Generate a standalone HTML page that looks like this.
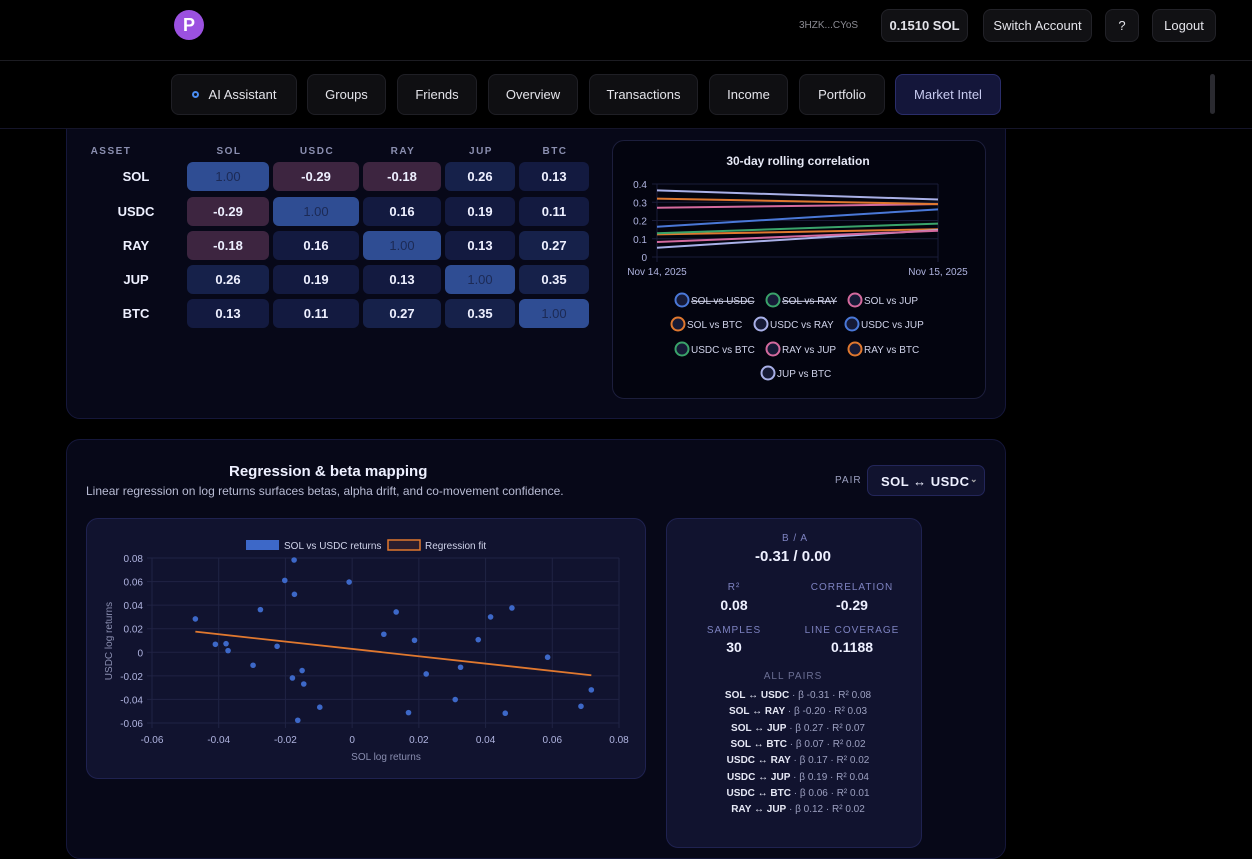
<!DOCTYPE html>
<html><head><meta charset="utf-8">
<style>
*{box-sizing:border-box;margin:0;padding:0}
body{width:1252px;height:826px;overflow:hidden;background:#000;font-family:"Liberation Sans",sans-serif;color:#e6e8f5;position:relative}
.abs{position:absolute}
.btn{position:absolute;background:#111114;border:1px solid #222228;border-radius:8px;color:#e4e4ea;font-size:13px;display:flex;align-items:center;justify-content:center;z-index:11}
.nav{position:absolute;top:74px;height:41px;background:#0f0f12;border:1px solid #1f1f25;border-radius:8px;color:#e4e4ea;font-size:13px;display:flex;align-items:center;justify-content:center;z-index:11}
.panel{position:absolute;background:#070818;border:1px solid #15173a;border-radius:14px}
.card{position:absolute;background:#11132f;border:1px solid #1f2250;border-radius:12px}
.cell{position:absolute;height:29px;border-radius:6px;display:flex;align-items:center;justify-content:center;font-size:13px;font-weight:bold;color:#eef0ff}
.hd{position:absolute;font-size:10px;font-weight:bold;letter-spacing:1.5px;color:#8b8fb0;transform:translateX(-50%)}
.rl{position:absolute;font-size:13px;font-weight:bold;color:#eef0ff;transform:translateX(-50%)}
.lbl{position:absolute;font-size:10px;letter-spacing:1px;color:#7d82c0;transform:translateX(-50%)}
.val{position:absolute;font-size:14px;font-weight:bold;color:#eef0ff;transform:translateX(-50%)}
.pair{position:absolute;left:798px;transform:translateX(-50%);font-size:10px;color:#9ca0c0;white-space:nowrap}
.pair b{color:#e6e8f5}
</style></head><body>
<div class="abs" style="left:0;top:0;width:1252px;height:128px;background:#000;z-index:10"></div>
<div class="abs" style="left:174px;top:10px;width:30px;height:30px;border-radius:50%;background:#9b51e0;color:#fff;font-weight:bold;font-size:18px;display:flex;align-items:center;justify-content:center;z-index:11">P</div>
<div class="abs" style="left:799px;top:20px;font-size:10px;color:#8a8a92;z-index:11">3HZK...CYoS</div>
<div class="btn" style="left:881px;top:9px;width:87px;height:33px;font-weight:bold">0.1510 SOL</div>
<div class="btn" style="left:983px;top:9px;width:109px;height:33px">Switch Account</div>
<div class="btn" style="left:1105px;top:9px;width:34px;height:33px">?</div>
<div class="btn" style="left:1152px;top:9px;width:64px;height:33px">Logout</div>
<div class="abs" style="left:0;top:60px;width:1252px;height:1px;background:#1c1c22;z-index:11"></div>
<div class="nav" style="left:171px;width:126px"><span style="display:inline-block;width:7px;height:7px;border:2px solid #4a8cf0;border-radius:50%;margin-right:10px"></span>AI Assistant</div>
<div class="nav" style="left:307px;width:79px">Groups</div>
<div class="nav" style="left:397px;width:80px">Friends</div>
<div class="nav" style="left:488px;width:90px">Overview</div>
<div class="nav" style="left:589px;width:109px">Transactions</div>
<div class="nav" style="left:709px;width:79px">Income</div>
<div class="nav" style="left:799px;width:86px">Portfolio</div>
<div class="nav" style="left:895px;width:106px;background:#14163a;border-color:#2a2d6a;color:#c8cbf0">Market Intel</div>
<div class="abs" style="left:1210px;top:74px;width:5px;height:40px;background:#2a2a30;border-radius:3px;z-index:11"></div>
<div class="abs" style="left:0;top:128px;width:1252px;height:1px;background:#15152a;z-index:11"></div>

<div class="panel" style="left:66px;top:100px;width:940px;height:319px"></div>
<div class="hd" style="left:111px;top:146px">ASSET</div>
<div id="heat"></div>

<div class="card" style="left:612px;top:140px;width:374px;height:259px;background:#03040f;border-color:#1c1e3c"></div>
<svg class="abs" id="roll" style="left:0;top:0" width="1252" height="826"></svg>

<div class="panel" style="left:66px;top:439px;width:940px;height:420px"></div>
<div class="abs" style="left:229px;top:463px;font-size:15px;font-weight:bold;color:#eef0ff">Regression &amp; beta mapping</div>
<div class="abs" style="left:86px;top:484px;font-size:12px;color:#b8bbd4">Linear regression on log returns surfaces betas, alpha drift, and co-movement confidence.</div>
<div class="abs" style="left:835px;top:475px;font-size:10px;letter-spacing:1px;color:#9ca0c0">PAIR</div>
<div class="abs" style="left:867px;top:465px;width:118px;height:31px;background:#11132f;border:1px solid #23265a;border-radius:7px;font-size:13px;font-weight:bold;letter-spacing:0.5px;color:#eef0ff;padding:8px 0 0 13px;white-space:nowrap">SOL ↔ USDC<span style="position:absolute;right:6px;top:8px;font-size:9px;color:#aaa">⌄</span></div>

<div class="card" style="left:86px;top:518px;width:560px;height:261px"></div>
<svg class="abs" id="sc" style="left:0;top:0" width="1252" height="826"></svg>

<div class="card" style="left:666px;top:518px;width:256px;height:330px"></div>
<div class="lbl" style="left:795px;top:533px">B / A</div>
<div class="val" style="left:793px;top:548px;font-size:15px">-0.31 / 0.00</div>
<div class="lbl" style="left:734px;top:582px">R²</div>
<div class="val" style="left:734px;top:597px">0.08</div>
<div class="lbl" style="left:852px;top:582px">CORRELATION</div>
<div class="val" style="left:852px;top:597px">-0.29</div>
<div class="lbl" style="left:734px;top:625px">SAMPLES</div>
<div class="val" style="left:734px;top:639px">30</div>
<div class="lbl" style="left:852px;top:625px">LINE COVERAGE</div>
<div class="val" style="left:852px;top:639px">0.1188</div>
<div class="lbl" style="left:793px;top:671px;color:#6b6f94">ALL PAIRS</div>
<div class="pair" style="top:690px"><b>SOL ↔ USDC</b> · β -0.31 · R² 0.08</div>
<div class="pair" style="top:706px"><b>SOL ↔ RAY</b> · β -0.20 · R² 0.03</div>
<div class="pair" style="top:723px"><b>SOL ↔ JUP</b> · β 0.27 · R² 0.07</div>
<div class="pair" style="top:739px"><b>SOL ↔ BTC</b> · β 0.07 · R² 0.02</div>
<div class="pair" style="top:755px"><b>USDC ↔ RAY</b> · β 0.17 · R² 0.02</div>
<div class="pair" style="top:772px"><b>USDC ↔ JUP</b> · β 0.19 · R² 0.04</div>
<div class="pair" style="top:788px"><b>USDC ↔ BTC</b> · β 0.06 · R² 0.01</div>
<div class="pair" style="top:804px"><b>RAY ↔ JUP</b> · β 0.12 · R² 0.02</div>

<script>
const assets=["SOL","USDC","RAY","JUP","BTC"];
const matrix=[[1,-0.29,-0.18,0.26,0.13],[-0.29,1,0.16,0.19,0.11],[-0.18,0.16,1,0.13,0.27],[0.26,0.19,0.13,1,0.35],[0.13,0.11,0.27,0.35,1]];
const rollDates=["Nov 14, 2025","Nov 15, 2025"];
const rollNames=["SOL vs USDC","SOL vs RAY","SOL vs JUP","SOL vs BTC","USDC vs RAY","USDC vs JUP","USDC vs BTC","RAY vs JUP","RAY vs BTC","JUP vs BTC"];
const rollStart=[-0.29,-0.18,0.27,0.124,0.051,0.166,0.13,0.082,0.32,0.365];
const rollEnd=[-0.29,-0.18,0.29,0.152,0.148,0.261,0.183,0.144,0.29,0.315];
const rollHidden=[true,true,false,false,false,false,false,false,false,false];
const rollTicks=[0,0.1,0.2,0.3,0.4];
const scX=[-0.047,-0.041,-0.0378,-0.0372,-0.0297,-0.0275,-0.0225,-0.0202,-0.0174,-0.0173,-0.0179,-0.015,-0.0145,-0.0163,-0.0097,-0.0009,0.0095,0.0132,0.0169,0.0187,0.0222,0.0309,0.0325,0.0378,0.0415,0.0459,0.0479,0.0586,0.0686,0.0717];
const scY=[0.0283,0.0068,0.0073,0.0014,-0.011,0.0362,0.0051,0.061,0.0783,0.0492,-0.0218,-0.0155,-0.0269,-0.0577,-0.0466,0.0596,0.0153,0.0342,-0.0512,0.0102,-0.0184,-0.0401,-0.0127,0.0107,0.03,-0.0517,0.0376,-0.0042,-0.0458,-0.0319];
const fitX=[-0.047,0.0717];
const fitY=[0.0175,-0.0195];
const xTicks=[-0.06,-0.04,-0.02,0,0.02,0.04,0.06,0.08];
const yTicks=[-0.06,-0.04,-0.02,0,0.02,0.04,0.06,0.08];

const colL=[187,273,363,445,519],colW=[84,88,80,72,72],rowT=[162,197,231,265,299];
const heat=document.getElementById('heat');
function cellColor(v){if(v>=0.999)return '#2f4d93';if(v<0)return '#3d2540';return v>=0.2?'#16214a':'#131a40';}
assets.forEach((a,j)=>{const h=document.createElement('div');h.className='hd';h.style.left=(colL[j]+colW[j]/2)+'px';h.style.top='146px';h.textContent=a;

heat.appendChild(h);});
assets.forEach((a,i)=>{const r=document.createElement('div');r.className='rl';r.style.left='136px';r.style.top=(rowT[i]+7)+'px';r.textContent=a;

heat.appendChild(r);
matrix[i].forEach((v,j)=>{const c=document.createElement('div');c.className='cell';c.style.left=colL[j]+'px';c.style.width=(colW[j]-2)+'px';c.style.top=rowT[i]+'px';c.style.background=cellColor(v);
if(v>=0.999){c.style.color='#1c2a55';c.style.fontWeight='normal';}
c.textContent=v.toFixed(2);

heat.appendChild(c);});});

const NS='http://www.w3.org/2000/svg';
function el(p,t,a){const e=document.createElementNS(NS,t);for(const k in a)e.setAttribute(k,a[k]);p.appendChild(e);return e;}
const R=document.getElementById('roll');
const colors=["#4a78d8","#3aa36a","#d46a9e","#e0782f","#a9b0e8","#4a78d8","#3aa36a","#d46a9e","#e0782f","#a9b0e8"];
const rx0=657,rx1=938,ry=v=>257-v/0.4*73;
let t=el(R,'text',{x:798,y:165,'text-anchor':'middle','font-size':12,'font-weight':'bold',fill:'#e6e8f5'});t.textContent='30-day rolling correlation';


rollTicks.forEach(v=>{const g=el(R,'line',{x1:rx0-5,x2:rx1,y1:ry(v),y2:ry(v),stroke:'#1a1c38'});


const tx=el(R,'text',{x:647,y:ry(v)+4,'text-anchor':'end','font-size':10,fill:'#b0b4e0'});tx.textContent=v===0?'0':v.toFixed(1);

});
[rx0,rx1].forEach((x,i)=>{const g=el(R,'line',{x1:x,x2:x,y1:ry(0.4),y2:ry(0)+5,stroke:'#1a1c38'});


const tx=el(R,'text',{x:x,y:275,'text-anchor':'middle','font-size':10,fill:'#b0b4e0'});tx.textContent=rollDates[i];

});
rollNames.forEach((n,i)=>{if(rollHidden[i])return;const l=el(R,'line',{x1:rx0,x2:rx1,y1:ry(rollStart[i]),y2:ry(rollEnd[i]),stroke:colors[i],'stroke-width':2});

});
const legPos=[[682,300],[773,300],[855,300],[678,324],[761,324],[852,324],[682,349],[773,349],[855,349],[768,373]];
rollNames.forEach((n,i)=>{const [x,y]=legPos[i];const c=el(R,'circle',{cx:x,cy:y,r:6.5,fill:'#161a36',stroke:colors[i],'stroke-width':2});


const tx=el(R,'text',{x:x+9,y:y+4,'font-size':10,fill:'#d0d3ea','text-decoration':rollHidden[i]?'line-through':'none'});tx.textContent=n;

});
const S=document.getElementById('sc');
const sx=v=>152+(v+0.06)/0.14*467,sy=v=>723-(v+0.06)/0.14*165;
xTicks.forEach(v=>{const g=el(S,'line',{x1:sx(v),x2:sx(v),y1:sy(0.08),y2:sy(-0.06)+5,stroke:'#202344'});


const tx=el(S,'text',{x:sx(v),y:743,'text-anchor':'middle','font-size':10,fill:'#b0b4e0'});tx.textContent=Math.abs(v)<1e-9?'0':v.toFixed(2);

});
yTicks.forEach(v=>{const g=el(S,'line',{x1:sx(-0.06)-5,x2:sx(0.08),y1:sy(v),y2:sy(v),stroke:'#202344'});


const tx=el(S,'text',{x:143,y:sy(v)+4,'text-anchor':'end','font-size':10,fill:'#b0b4e0'});tx.textContent=Math.abs(v)<1e-9?'0':v.toFixed(2);

});
t=el(S,'text',{x:386,y:760,'text-anchor':'middle','font-size':10,fill:'#8a8eb0'});t.textContent='SOL log returns';


t=el(S,'text',{x:112,y:641,'text-anchor':'middle','font-size':10,fill:'#8a8eb0',transform:'rotate(-90 112 641)'});t.textContent='USDC log returns';


scX.forEach((x,i)=>{const c=el(S,'circle',{cx:sx(x),cy:sy(scY[i]),r:2.8,fill:'#3d68c8'});

});
const fl=el(S,'line',{x1:sx(fitX[0]),y1:sy(fitY[0]),x2:sx(fitX[1]),y2:sy(fitY[1]),stroke:'#e0782f','stroke-width':1.8});


let r=el(S,'rect',{x:246,y:540,width:33,height:10,fill:'#3d68c8'});


t=el(S,'text',{x:284,y:549,'font-size':10,fill:'#d0d3ea'});t.textContent='SOL vs USDC returns';


r=el(S,'rect',{x:388,y:540,width:32,height:10,fill:'#2a1d2e',stroke:'#e0782f','stroke-width':1.5});


t=el(S,'text',{x:425,y:549,'font-size':10,fill:'#d0d3ea'});t.textContent='Regression fit';


</script>
</body></html>
